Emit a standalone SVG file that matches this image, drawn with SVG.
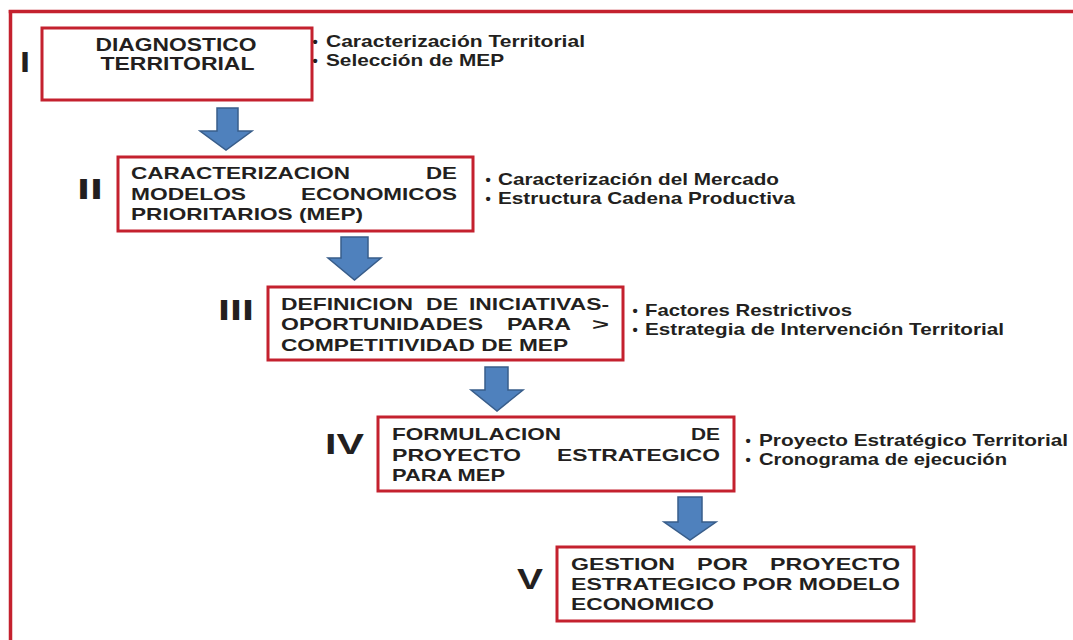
<svg xmlns="http://www.w3.org/2000/svg" width="1073" height="640" viewBox="0 0 1073 640">
<style>
.frame{stroke:#c4212e;stroke-width:3.5;fill:none}
.box{fill:#fff;stroke:#c4212e;stroke-width:3}
.t{font-family:"Liberation Sans",Arial,sans-serif;font-weight:bold;fill:#231f20}
.bt{font-size:16.5px}
.b1{font-size:18px}
.lab{font-size:29px}
.bl{font-size:16.5px}
.dot{font-size:15px}
.arr{fill:#4f81bd;stroke:#385d8a;stroke-width:1.5;stroke-linejoin:miter}
</style>
<rect width="1073" height="640" fill="#fff"/>
<g id="frame">
<line class="frame" x1="8.75" y1="11.5" x2="1073" y2="11.5"/>
<line class="frame" x1="10.5" y1="10" x2="10.5" y2="640"/>
</g>
<g id="connectors">
<polygon class="arr" points="217,108 238,108 238,131 252,131 226,150 200,131 217,131"/>
<polygon class="arr" points="341,237 368,237 368,258 381,258 354.5,280 328,258 341,258"/>
<polygon class="arr" points="485,367 508,367 508,390 523,390 497,411 471,390 485,390"/>
<polygon class="arr" points="678,497 702,497 702,522 716,522 690,540 664,522 678,522"/>
</g>
<g id="node1">
<rect class="box" x="42" y="28" width="270" height="72"/>
<text class="t lab" x="20" y="72" textLength="10" lengthAdjust="spacingAndGlyphs">I</text>
<text class="t b1" x="95.5" y="50.5" textLength="161" lengthAdjust="spacingAndGlyphs">DIAGNOSTICO</text>
<text class="t b1" x="100.5" y="70" textLength="154" lengthAdjust="spacingAndGlyphs">TERRITORIAL</text>
<text class="t dot" x="312.5" y="46.5">•</text>
<text class="t bl" x="326" y="46.7" textLength="259" lengthAdjust="spacingAndGlyphs">Caracterización Territorial</text>
<text class="t dot" x="312.5" y="65.5">•</text>
<text class="t bl" x="326" y="65.7" textLength="178" lengthAdjust="spacingAndGlyphs">Selección de MEP</text>
</g>
<g id="node2">
<rect class="box" x="118" y="157" width="355" height="74"/>
<text class="t lab" x="77" y="199" textLength="26" lengthAdjust="spacingAndGlyphs">II</text>
<text class="t bt" x="131" y="179" textLength="219" lengthAdjust="spacingAndGlyphs">CARACTERIZACION</text>
<text class="t bt" x="426" y="179" textLength="31" lengthAdjust="spacingAndGlyphs">DE</text>
<text class="t bt" x="131" y="200" textLength="115" lengthAdjust="spacingAndGlyphs">MODELOS</text>
<text class="t bt" x="301" y="200" textLength="156" lengthAdjust="spacingAndGlyphs">ECONOMICOS</text>
<text class="t bt" x="131" y="220" textLength="232" lengthAdjust="spacingAndGlyphs">PRIORITARIOS (MEP)</text>
<text class="t dot" x="485.5" y="185">•</text>
<text class="t bl" x="498" y="185" textLength="281" lengthAdjust="spacingAndGlyphs">Caracterización del Mercado</text>
<text class="t dot" x="485.5" y="204">•</text>
<text class="t bl" x="498" y="204.3" textLength="297" lengthAdjust="spacingAndGlyphs">Estructura Cadena Productiva</text>
</g>
<g id="node3">
<rect class="box" x="268" y="287" width="355" height="73"/>
<text class="t lab" x="218" y="320" textLength="36" lengthAdjust="spacingAndGlyphs">III</text>
<text class="t bt" x="281" y="310" textLength="132" lengthAdjust="spacingAndGlyphs">DEFINICION</text>
<text class="t bt" x="426" y="310" textLength="32" lengthAdjust="spacingAndGlyphs">DE</text>
<text class="t bt" x="469" y="310" textLength="140" lengthAdjust="spacingAndGlyphs">INICIATIVAS-</text>
<text class="t bt" x="281" y="330" textLength="202" lengthAdjust="spacingAndGlyphs">OPORTUNIDADES</text>
<text class="t bt" x="507" y="330" textLength="64" lengthAdjust="spacingAndGlyphs">PARA</text>
<text class="t bt" x="592" y="330" textLength="17" lengthAdjust="spacingAndGlyphs">&gt;</text>
<text class="t bt" x="281" y="350.5" textLength="287" lengthAdjust="spacingAndGlyphs">COMPETITIVIDAD DE MEP</text>
<text class="t dot" x="632.5" y="316">•</text>
<text class="t bl" x="645" y="316" textLength="207" lengthAdjust="spacingAndGlyphs">Factores Restrictivos</text>
<text class="t dot" x="632.5" y="335">•</text>
<text class="t bl" x="645" y="335" textLength="359" lengthAdjust="spacingAndGlyphs">Estrategia de Intervención Territorial</text>
</g>
<g id="node4">
<rect class="box" x="378" y="417" width="356" height="74"/>
<text class="t lab" x="325" y="454" textLength="39" lengthAdjust="spacingAndGlyphs">IV</text>
<text class="t bt" x="392" y="440" textLength="169" lengthAdjust="spacingAndGlyphs">FORMULACION</text>
<text class="t bt" x="691" y="440" textLength="29" lengthAdjust="spacingAndGlyphs">DE</text>
<text class="t bt" x="392" y="461" textLength="129" lengthAdjust="spacingAndGlyphs">PROYECTO</text>
<text class="t bt" x="557" y="461" textLength="163" lengthAdjust="spacingAndGlyphs">ESTRATEGICO</text>
<text class="t bt" x="392" y="481" textLength="113" lengthAdjust="spacingAndGlyphs">PARA MEP</text>
<text class="t dot" x="745.5" y="446">•</text>
<text class="t bl" x="759" y="446" textLength="309" lengthAdjust="spacingAndGlyphs">Proyecto Estratégico Territorial</text>
<text class="t dot" x="745.5" y="465">•</text>
<text class="t bl" x="759" y="465" textLength="248" lengthAdjust="spacingAndGlyphs">Cronograma de ejecución</text>
</g>
<g id="node5">
<rect class="box" x="557" y="547" width="357" height="74"/>
<text class="t lab" x="517" y="589" textLength="26" lengthAdjust="spacingAndGlyphs">V</text>
<text class="t bt" x="571" y="570" textLength="104" lengthAdjust="spacingAndGlyphs">GESTION</text>
<text class="t bt" x="697" y="570" textLength="51" lengthAdjust="spacingAndGlyphs">POR</text>
<text class="t bt" x="770" y="570" textLength="130" lengthAdjust="spacingAndGlyphs">PROYECTO</text>
<text class="t bt" x="571" y="590" textLength="329" lengthAdjust="spacingAndGlyphs">ESTRATEGICO POR MODELO</text>
<text class="t bt" x="571" y="610" textLength="143" lengthAdjust="spacingAndGlyphs">ECONOMICO</text>
</g>
</svg>
